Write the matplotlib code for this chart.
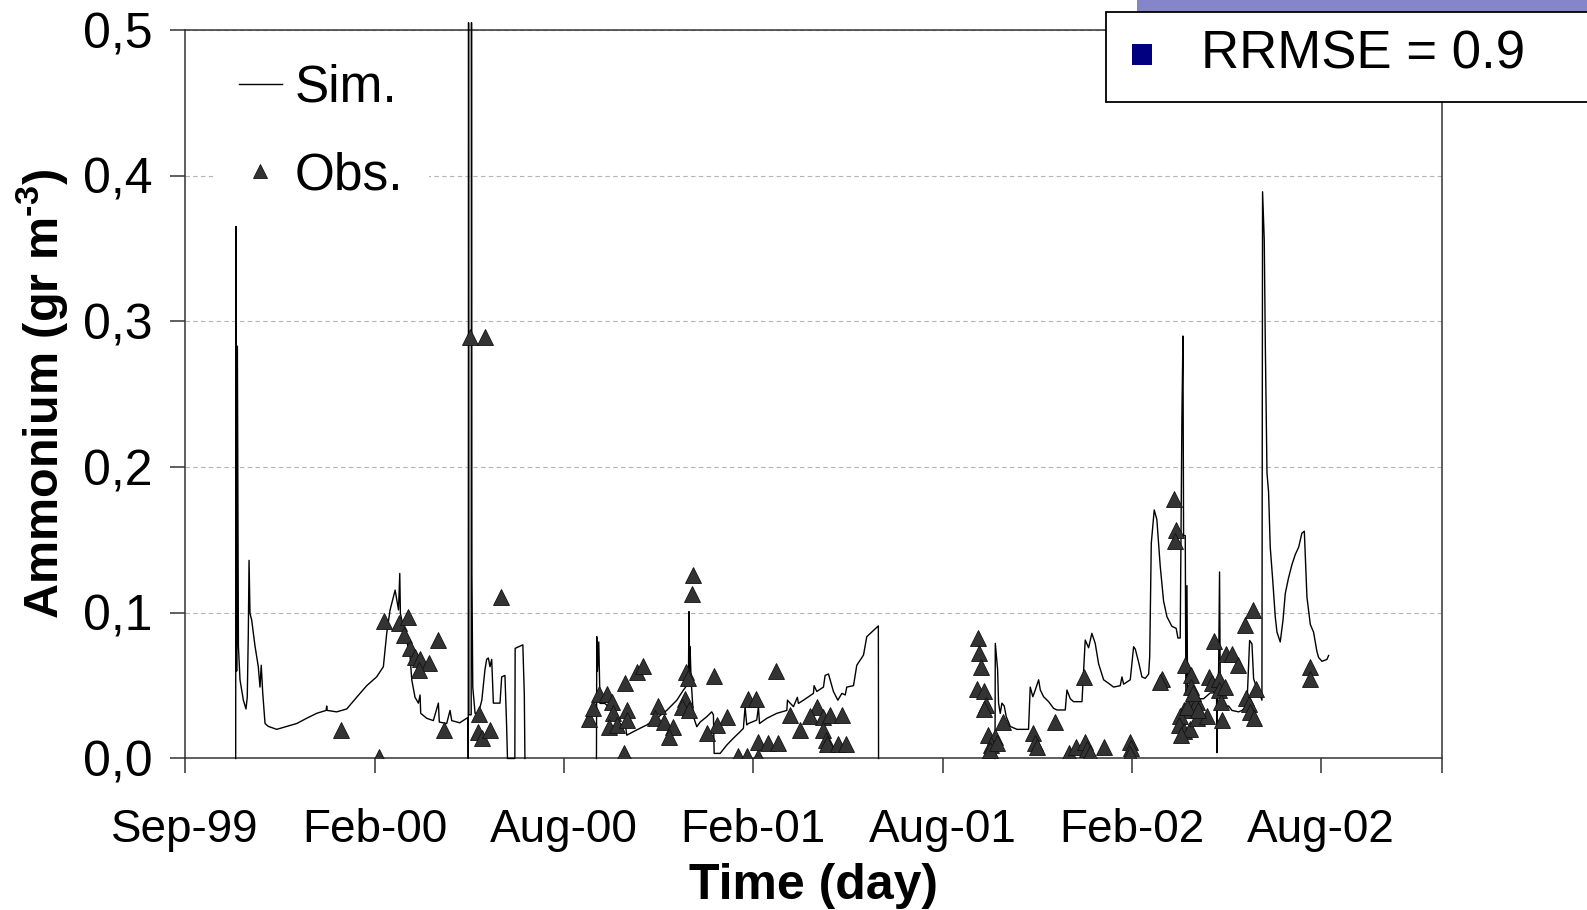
import numpy as np
import matplotlib
matplotlib.use("Agg")
import matplotlib.pyplot as plt
from matplotlib.lines import Line2D
from matplotlib.patches import Rectangle

plt.rcParams['font.family'] = ['Liberation Sans', 'DejaVu Sans']
plt.rcParams['mathtext.fontset'] = 'custom'
plt.rcParams['mathtext.rm'] = 'Liberation Sans:bold'

# days counted from the Sep-99 tick, one major tick every 180 days
tick_days = [0, 180, 360, 540, 720, 900, 1080]
tick_labels = ['Sep-99', 'Feb-00', 'Aug-00', 'Feb-01', 'Aug-01', 'Feb-02', 'Aug-02']
y_ticks = [0.0, 0.1, 0.2, 0.3, 0.4, 0.5]
y_labels = ['0,0', '0,1', '0,2', '0,3', '0,4', '0,5']

# simulated ammonium, nan marks the gaps between runs
sim_day = [48.0, 48.3, 48.9, 49.6, 50.6, 52.1, 55.3, 57.8, 59.0, 60.0, 60.7, 61.6, 63.2, 66.4,
           69.5, 71.1, 72.3, 73.7, 75.9, 79.1, 87.0, 96.5, 106.0, 115.5, 125.0, 134.0, 134.5,
           135.0, 144.0, 153.6, 163.0, 172.6, 182.0, 188.4, 191.6, 194.8, 198.0, 199.6, 201.2,
           202.8, 204.0, 204.6, 207.4, 210.6, 213.8, 215.4, 218.5, 221.7, 223.3, 223.9, 229.6,
           235.9, 240.7, 241.6, 248.6, 251.8, 253.4, 261.0, 267.6, 268.9, 269.1, 269.4, 269.7,
           271.9, 272.2, 272.6, 273.4, 275.6, 278.8, 282.0, 285.0, 286.6, 288.2, 289.8, 291.4,
           293.0, 299.3, 300.9, 304.0, 305.6, 306.4, 313.4, 313.7, 321.0, 322.4, 323.0,
           np.nan,
           391.0, 391.3, 392.0, 393.2, 394.4, 399.0, 402.4, 405.6, 410.0, 415.0, 418.2, 419.8,
           429.3, 438.8, 448.3, 457.8, 467.4, 473.7, 478.4, 479.0, 479.6, 480.0, 481.0, 483.2,
           486.4, 489.6, 495.9, 500.6, 502.2, 502.9, 508.6, 515.0, 521.0, 527.6, 530.7, 532.3,
           533.9, 535.5, 543.4, 545.0, 546.0, 553.0, 562.5, 572.0, 572.6, 575.1, 578.3, 582.0,
           583.0, 587.8, 597.3, 597.9, 600.5, 606.8, 608.4, 611.6, 613.2, 616.3, 620.5, 624.3,
           627.5, 629.0, 635.4, 638.5, 644.9, 648.0, 657.5, 659.0, 659.2,
           np.nan,
           769.9, 770.2, 772.4, 773.3, 774.9, 776.5, 778.7, 780.6, 784.4, 790.8, 801.8, 803.4,
           805.9, 808.2, 811.4, 813.0, 816.1, 820.9, 825.6, 828.8, 836.7, 838.3, 841.5, 844.6,
           852.6, 855.7, 858.9, 862.0, 865.2, 868.4, 873.2, 877.9, 882.7, 889.0, 890.6, 892.2,
           898.5, 901.7, 903.3, 906.5, 909.6, 912.8, 916.0, 917.0, 918.5, 921.3, 923.8, 927.0,
           930.2, 933.4, 938.1, 942.2, 943.8, 946.0, 946.7, 947.6, 948.6, 949.2, 950.8, 951.4,
           952.4, 953.0, 957.1, 961.9, 968.2, 974.6, 977.7, 980.5, 980.9, 981.4, 982.5, 983.4,
           984.0, 984.7, 985.7, 992.0, 995.2, 1001.5, 1004.7, 1009.4, 1012.0, 1014.2, 1015.8,
           1018.3, 1020.5, 1023.7, 1024.3, 1025.9, 1026.9, 1028.5, 1030.0, 1031.6, 1033.8,
           1036.4, 1038.0, 1041.1, 1043.7, 1045.9, 1049.0, 1052.2, 1055.4, 1058.6, 1061.7,
           1064.0, 1066.5, 1069.7, 1072.8, 1076.0, 1077.6, 1080.8, 1085.5, 1087.1]
sim_val = [0.0, 0.378, 0.06, 0.283, 0.077, 0.054, 0.040, 0.034, 0.042, 0.086, 0.136, 0.0996, 0.095,
           0.077, 0.063, 0.049, 0.064, 0.045, 0.024, 0.022, 0.020, 0.022, 0.024, 0.0276, 0.031,
           0.033, 0.036, 0.033, 0.032, 0.034, 0.042, 0.050, 0.056, 0.063, 0.086, 0.102, 0.111,
           0.1156, 0.109, 0.102, 0.127, 0.0996, 0.090, 0.081, 0.070, 0.054, 0.042, 0.038, 0.0436,
           0.031, 0.0276, 0.026, 0.038, 0.025, 0.024, 0.033, 0.026, 0.0245, 0.0276, 0.028, 0.0,
           0.505, 0.03, 0.03, 0.505, 0.126, 0.049, 0.031, 0.031, 0.040, 0.061, 0.068, 0.069,
           0.063, 0.068, 0.038, 0.038, 0.056, 0.057, 0.022, 0.0, 0.0, 0.0756, 0.078, 0.044, 0.0,
           np.nan,
           0.0, 0.0836, 0.06, 0.080, 0.0378, 0.0378, 0.0356, 0.033, 0.026, 0.023, 0.025, 0.016,
           0.0196, 0.023, 0.0276, 0.033, 0.040, 0.047, 0.0516, 0.1008, 0.06, 0.0767, 0.054,
           0.0287, 0.0218, 0.025, 0.0287, 0.032, 0.030, 0.0035, 0.0035, 0.0093, 0.0138, 0.0184,
           0.0207, 0.0356, 0.023, 0.024, 0.0264, 0.0356, 0.024, 0.0276, 0.031, 0.033, 0.040,
           0.038, 0.0356, 0.042, 0.0378, 0.040, 0.0447, 0.050, 0.046, 0.049, 0.057, 0.058, 0.054,
           0.046, 0.040, 0.0447, 0.0436, 0.049, 0.050, 0.064, 0.071, 0.0836, 0.090, 0.091, 0.0,
           np.nan,
           0.0, 0.079, 0.061, 0.038, 0.031, 0.038, 0.036, 0.0287, 0.022, 0.020, 0.020, 0.049,
           0.0424, 0.047, 0.054, 0.047, 0.0424, 0.039, 0.0344, 0.0333, 0.0333, 0.047, 0.041,
           0.039, 0.039, 0.0813, 0.076, 0.0859, 0.079, 0.065, 0.054, 0.0516, 0.049, 0.050, 0.056,
           0.051, 0.054, 0.0767, 0.075, 0.066, 0.056, 0.055, 0.058, 0.070, 0.1477, 0.1706, 0.164,
           0.132, 0.108, 0.0973, 0.0907, 0.0893, 0.0827, 0.0827, 0.153, 0.233, 0.29, 0.153, 0.153,
           0.044, 0.1187, 0.044, 0.0387, 0.041, 0.041, 0.045, 0.045, 0.049, 0.004, 0.049, 0.060,
           0.128, 0.060, 0.049, 0.036, 0.036, 0.033, 0.032, 0.033, 0.036, 0.081, 0.0787, 0.0547,
           0.0493, 0.0467, 0.040, 0.389, 0.356, 0.285, 0.196, 0.183, 0.145, 0.124, 0.097, 0.0867,
           0.080, 0.0947, 0.1133, 0.124, 0.133, 0.140, 0.145, 0.1547, 0.156, 0.1107, 0.092,
           0.0867, 0.0733, 0.0693, 0.0667, 0.068, 0.0707]

# observed ammonium
obs_day = [148.2, 184.6, 189.0, 203.6, 212.2, 208.1, 213.8, 218.5, 223.3, 232.2, 222.7, 240.7,
           246.4, 271.0, 285.0, 279.4, 278.1, 282.0, 289.9, 300.0,
           384.3, 387.5, 393.8, 400.8, 405.5, 407.1, 403.3, 410.9, 419.8, 419.8, 417.3, 418.2,
           429.3, 435.0, 449.9, 446.7, 455.3, 464.2, 460.4, 476.2, 478.4, 475.3, 472.1, 479.4,
           483.2, 481.9, 502.9, 514.9, 505.4, 496.5, 526.0, 534.0, 545.0, 535.5, 542.8, 545.0,
           554.5, 564.0, 561.8, 575.1, 584.6, 600.5, 594.2, 606.8, 613.2, 624.3, 606.8, 609.4,
           610.0, 621.1, 628.4,
           753.3, 754.9, 756.5, 752.7, 759.7, 761.6, 759.0, 762.9, 770.1, 766.0, 765.4, 771.7,
           777.4, 806.0, 808.2, 809.8, 827.2, 839.9, 847.2, 855.7, 857.3, 860.5, 873.8, 897.9,
           899.2, 898.5, 854.8, 928.6, 926.4, 939.7, 942.3, 941.3,
           950.8, 956.2, 956.2, 957.1, 961.9, 949.2, 946.0, 944.4, 949.2, 954.9, 961.9, 971.4,
           973.0, 978.4, 976.1, 982.5, 982.5, 984.7, 985.7, 988.8, 989.8, 995.2, 1000.6, 1007.8,
           1015.1, 1008.8, 1011.0, 1012.6, 1016.4, 1018.3, 1069.7, 1069.0, 947.0, 952.0, 958.5,
           963.0]
obs_val = [0.0196, 0.001, 0.0946, 0.0928, 0.0969, 0.0848, 0.0756, 0.070, 0.068, 0.0658, 0.0607,
           0.0813, 0.0196, 0.289, 0.289, 0.0303, 0.0184, 0.0138, 0.0196, 0.1106,
           0.0269, 0.0344, 0.0442, 0.0442, 0.039, 0.031, 0.0218, 0.023, 0.0333, 0.0264, 0.0035,
           0.0516, 0.0596, 0.0635, 0.036, 0.0276, 0.0253, 0.0218, 0.015, 0.0596, 0.055, 0.0406,
           0.0356, 0.0333, 0.126, 0.1129, 0.0566, 0.0287, 0.023, 0.0177, 0.0017, 0.0017, 0.0013,
           0.0406, 0.0406, 0.011, 0.0104, 0.0104, 0.0603, 0.0299, 0.0196, 0.0356, 0.029, 0.0287,
           0.0299, 0.0299, 0.0196, 0.0127, 0.01, 0.01, 0.01,
           0.0825, 0.0722, 0.0626, 0.0475, 0.0466, 0.0367, 0.0337, 0.0161, 0.015, 0.0093, 0.0058,
           0.0104, 0.0253, 0.0177, 0.0104, 0.0081, 0.0253, 0.0035, 0.0081, 0.0116, 0.0063, 0.0035,
           0.0081, 0.0116, 0.007, 0.003, 0.0562, 0.0543, 0.0527, 0.1779, 0.1568, 0.1495,
           0.064, 0.0573, 0.0493, 0.040, 0.0387, 0.0333, 0.0293, 0.0227, 0.0187, 0.020, 0.028,
           0.0293, 0.056, 0.0808, 0.052, 0.0547, 0.0467, 0.0387, 0.0267, 0.0493, 0.072, 0.072,
           0.064, 0.0915, 0.1021, 0.0413, 0.0373, 0.032, 0.028, 0.048, 0.0627, 0.0547, 0.016,
           0.035, 0.045, 0.033]

rrmse_text = 'RRMSE = 0.9'

fig = plt.figure(figsize=(15.87, 9.10), dpi=100)
ax = fig.add_axes([0.1167, 0.1665, 0.792, 0.8005])

ax.plot(sim_day, sim_val, color='black', lw=1.0, clip_on=False, zorder=3)
ax.plot(obs_day, obs_val, linestyle='none', marker='^', markersize=11.5,
        mfc='#333333', mec='#111111', mew=0.6, zorder=4)

ax.set_xlim(0, 1195)
ax.set_ylim(0, 0.5)
ax.set_xticks(tick_days)
ax.set_xticklabels(tick_labels)
ax.set_xticks([1195], minor=True)
ax.set_yticks(y_ticks)
ax.set_yticklabels(y_labels)

for s in ax.spines.values():
    s.set_color('#333333')
    s.set_linewidth(1.1)
ax.tick_params(axis='both', which='both', direction='out', length=10.8, width=1.1, color='#333333')
ax.tick_params(axis='y', labelsize=36, pad=13)
ax.tick_params(axis='x', labelsize=33, pad=25)
ax.yaxis.grid(True, color='#b4b4b4', linestyle=(0, (4, 3)), lw=0.8)
ax.set_axisbelow(True)

ax.set_xlabel('Time (day)', fontsize=36, fontweight='bold')
ax.xaxis.set_label_coords(0.5, -0.143)
ax.set_ylabel(r'Ammonium (gr m$^{\text{-3}}$)', fontsize=35, fontweight='bold')
ax.yaxis.set_label_coords(-0.091, 0.5)

handles = [Line2D([], [], color='black', lw=1.0),
           Line2D([], [], linestyle='none', marker='^', markersize=10, mfc='#333333', mec='#111111', mew=0.6)]
leg = ax.legend(handles, ['Sim.', 'Obs.'], loc='upper left', bbox_to_anchor=(0.0224, 0.989),
                fontsize=37, frameon=True, facecolor='white', edgecolor='none', framealpha=1,
                fancybox=False, borderpad=0.5, handlelength=0.83, handletextpad=0.26,
                labelspacing=0.75, borderaxespad=0)
leg.set_zorder(5)

# boxed RRMSE label at top right, with the slide's coloured strip above it
fig.patches.append(Rectangle((0.7165, 0.9868), 0.3, 0.02, transform=fig.transFigure,
                             facecolor='#8585c9', edgecolor='none', zorder=1))
fig.patches.append(Rectangle((0.697, 0.888), 0.32, 0.0988, transform=fig.transFigure,
                             facecolor='white', edgecolor='black', lw=1.3, zorder=2))
fig.patches.append(Rectangle((0.713, 0.9286), 0.0129, 0.0225, transform=fig.transFigure,
                             facecolor='#000080', edgecolor='none', zorder=3))
fig.text(0.757, 0.9405, rrmse_text, fontsize=38, va='center', ha='left', zorder=4)

fig.savefig('out.png', dpi=100)
